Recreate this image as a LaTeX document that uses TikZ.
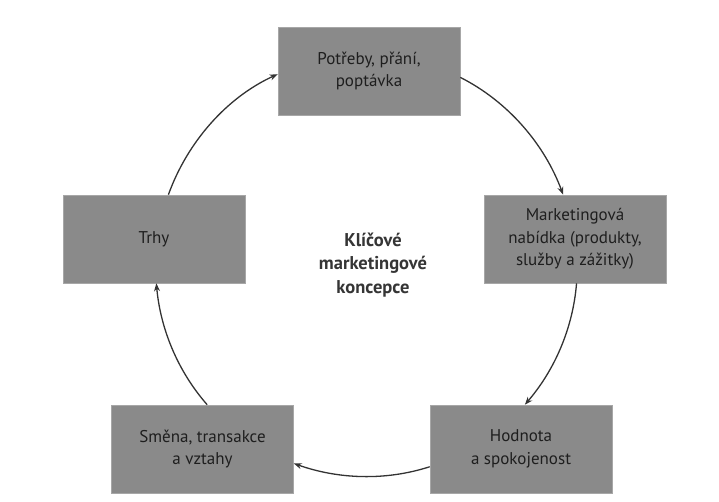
\documentclass[tikz,border=0pt]{standalone}
\usepackage{fontspec}
\setmainfont{PT Sans}
\usetikzlibrary{arrows.meta}
\definecolor{boxgray}{HTML}{8A8A8A}
\definecolor{txtcol}{HTML}{1E1E1E}
\definecolor{arrcol}{HTML}{333333}
\begin{document}
\begin{tikzpicture}[x=1pt,y=1pt,
  concept/.style={rectangle, fill=boxgray, draw=boxgray!75!white, line width=0.6pt,
    minimum width=182pt, minimum height=88pt, inner sep=0pt, align=center,
    text=txtcol, font=\fontsize{17}{22.5}\selectfont},
  cyc/.style={-{Stealth[length=8pt,width=6pt]}, draw=arrcol, line width=1.3pt, looseness=0.88},
  hub/.style={align=center, text=txtcol!90!white, font=\bfseries\fontsize{18.5}{23.5}\selectfont},
]
\useasboundingbox (0,0) rectangle (719,-502);
\node[concept] (need)  at (369,-71)   {Potřeby, přání,\\poptávka};
\node[concept] (offer) at (575,-239)  {Marketingová\\nabídka (produkty,\\služby a zážitky)};
\node[concept] (value) at (521,-449)  {Hodnota\\a spokojenost};
\node[concept] (exch)  at (202.5,-449){Směna, transakce\\a vztahy};
\node[concept] (mkt)   at (154,-239)  {Trhy};
\node[hub] (core) at (373,-265) {Klíčové\\marketingové\\koncepce};

\draw[cyc] (need.-4.4)  to[out=-26.8, in=110.3] (offer.105.8);
\draw[cyc] (offer.-88.7) to[out=-94.6, in=49.4] (value.85);
\draw[cyc] (value.191.2) to[out=-162.1, in=-19.5] (exch.-9.2);
\draw[cyc] (exch.84.2) to[out=131.3, in=-84.8] (mkt.-87.5);
\draw[cyc] (mkt.72.3) to[out=70.2, in=204.5] (need.182.5);
\end{tikzpicture}
\end{document}
